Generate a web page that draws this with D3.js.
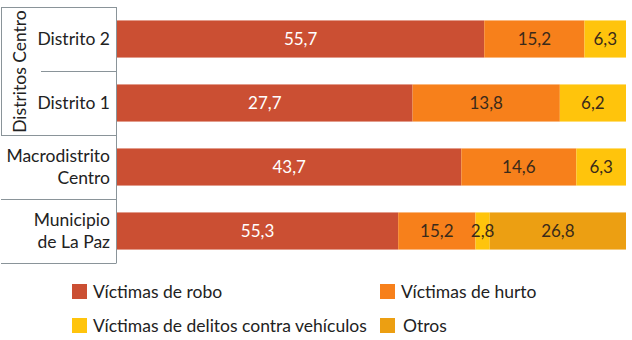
<!DOCTYPE html>
<html>
<head>
<meta charset="utf-8">
<script src="https://cdn.jsdelivr.net/npm/d3@7"></script>
<style>
  body { margin: 0; background: #fff; }
  svg { display: block; font-family: Lato, 'Open Sans', sans-serif; }
</style>
</head>
<body>
<svg id="chart" width="632" height="340"></svg>
<script>
// data
const categories = ['Distrito 2', 'Distrito 1', 'Macrodistrito Centro', 'Municipio de La Paz']
const catLines = [['Distrito 2'], ['Distrito 1'], ['Macrodistrito', 'Centro'], ['Municipio', 'de La Paz']]
const seriesNames = ['Víctimas de robo', 'Víctimas de hurto', 'Víctimas de delitos contra vehículos', 'Otros']
const robo = [55.7, 27.7, 43.7, 55.3]
const hurto = [15.2, 13.8, 14.6, 15.2]
const vehiculos = [6.3, 6.2, 6.3, 2.8]
const otros = [null, null, null, 26.8]
const groups = [{ name: 'Distritos Centro', from: 0, to: 1 }]

const colors = ['#CB4F33', '#F7801B', '#FFC40C', '#EC9F12']
const labelColors = ['#fff', '#3a2a1a', '#3a2a1a', '#3a2a1a']

const svg = d3.select('#chart')
const margin = { top: 7, left: 117, right: 6, bottom: 77 }
const width = 632, height = 340

const rows = categories.map((c, i) => ({
  cat: c, s0: robo[i], s1: hurto[i], s2: vehiculos[i], s3: otros[i] || 0
}))
const keys = ['s0', 's1', 's2', 's3']
const rawVals = [robo, hurto, vehiculos, otros]

const stacked = d3.stack().keys(keys).offset(d3.stackOffsetExpand)(rows)

const y = d3.scaleBand()
  .domain(categories)
  .range([margin.top, height - margin.bottom])
  .paddingInner(0.42)
  .paddingOuter(0.21)

const x = d3.scaleLinear()
  .domain([0, 1])
  .range([margin.left, width - margin.right])

const fmt = v => d3.format('.1f')(v).replace('.', ',')

// bars
const layer = svg.selectAll('g.layer')
  .data(stacked)
  .join('g')
  .attr('class', 'layer')
  .attr('fill', (d, i) => colors[i])

layer.selectAll('rect')
  .data(d => d)
  .join('rect')
  .attr('x', d => x(d[0]))
  .attr('y', d => y(d.data.cat))
  .attr('width', d => Math.max(0, x(d[1]) - x(d[0])))
  .attr('height', y.bandwidth())

// value labels
stacked.forEach((s, si) => {
  svg.append('g')
    .selectAll('text')
    .data(s.filter((d, i) => rawVals[si][i] != null))
    .join('text')
    .attr('x', d => (x(d[0]) + x(d[1])) / 2)
    .attr('y', d => y(d.data.cat) + y.bandwidth() / 2)
    .attr('dy', '0.36em')
    .attr('text-anchor', 'middle')
    .style('font-size', '17px')
    .style('fill', labelColors[si])
    .text(d => fmt(rawVals[si][categories.indexOf(d.data.cat)]))
})

// category axis, multi-level
const axis = svg.append('g').attr('stroke', '#8a9499').attr('stroke-width', 1)
const step = y.step()
const yTop = y.range()[0], yBottom = y.range()[1]
const edge = c => y(c) - (step - y.bandwidth()) / 2

axis.append('line')
  .attr('x1', margin.left - 0.5).attr('x2', margin.left - 0.5)
  .attr('y1', yTop).attr('y2', yBottom)

// separators: inner ones only span the inner level inside a group
const innerLeft = 41
const boundaries = d3.range(categories.length + 1).map(i => {
  const yy = i < categories.length ? edge(categories[i]) : yBottom
  const inGroup = groups.some(g => i > g.from && i <= g.to)
  return { y: Math.round(yy) + 0.5, x1: inGroup ? innerLeft : 1 }
})
axis.selectAll('line.sep')
  .data(boundaries)
  .join('line')
  .attr('class', 'sep')
  .attr('x1', d => d.x1).attr('x2', margin.left - 0.5)
  .attr('y1', d => d.y).attr('y2', d => d.y)

groups.forEach(g => {
  const y1 = Math.round(edge(categories[g.from])) + 0.5
  const y2 = Math.round(edge(categories[g.to]) + step) + 0.5
  axis.append('line')
    .attr('x1', 1.5).attr('x2', 1.5)
    .attr('y1', y1).attr('y2', y2)
  svg.append('text')
    .attr('transform', `translate(${20},${(y1 + y2) / 2}) rotate(-90)`)
    .attr('text-anchor', 'middle')
    .attr('dy', '0.35em')
    .style('font-size', '17.5px')
    .style('fill', '#222')
    .text(g.name)
})

svg.append('g')
  .selectAll('text')
  .data(categories)
  .join('text')
  .attr('text-anchor', 'end')
  .style('font-size', '17.5px')
  .style('fill', '#222')
  .each(function (c, i) {
    const lines = catLines[i]
    const cy = y(c) + y.bandwidth() / 2
    const lh = 22
    d3.select(this).selectAll('tspan')
      .data(lines)
      .join('tspan')
      .attr('x', 110)
      .attr('y', (l, j) => cy + (j - (lines.length - 1) / 2) * lh)
      .attr('dy', '0.35em')
      .text(l => l)
  })

// legend
const legendPos = [[72, 284], [380, 284], [72, 318], [380, 318]]
const legend = svg.append('g')
  .selectAll('g')
  .data(seriesNames)
  .join('g')
  .attr('transform', (d, i) => `translate(${legendPos[i][0]},${legendPos[i][1]})`)

legend.append('rect')
  .attr('width', 15).attr('height', 15)
  .attr('fill', (d, i) => colors[i])

legend.append('text')
  .attr('x', (d, i) => (i === 3 ? 23 : 21))
  .attr('y', 7.5)
  .attr('dy', '0.35em')
  .style('font-size', '17.5px')
  .style('fill', '#222')
  .text(d => d)
</script>
</body>
</html>
